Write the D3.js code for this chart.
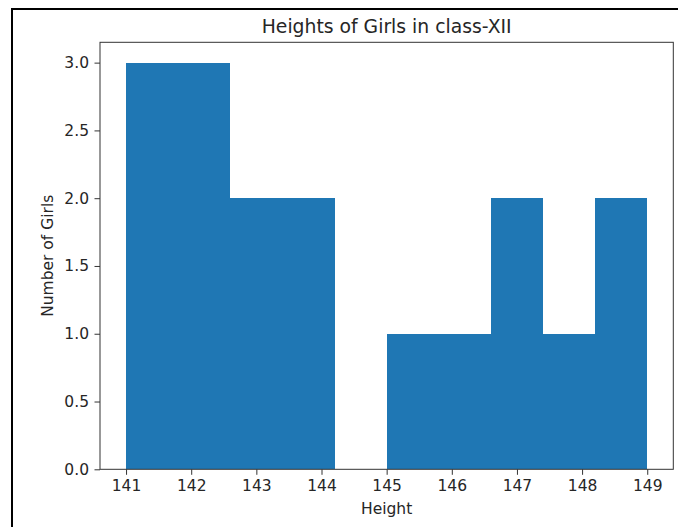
<!DOCTYPE html>
<html><head><meta charset="utf-8">
<script src="https://cdn.jsdelivr.net/npm/d3@7"></script>
<style>body{margin:0;background:#fff}svg{display:block;font-family:"DejaVu Sans",sans-serif}</style>
</head><body>
<svg id="c" width="678" height="527"></svg>
<script>
const binEdges = [141, 141.8, 142.6, 143.4, 144.2, 145, 145.8, 146.6, 147.4, 148.2, 149];
const counts = [3, 3, 2, 2, 0, 1, 1, 2, 1, 2];
const xTicks = [141, 142, 143, 144, 145, 146, 147, 148, 149];
const yTicks = [0, 0.5, 1.0, 1.5, 2.0, 2.5, 3.0];
const titleText = "Heights of Girls in class-XII";
const xLabel = "Height";
const yLabel = "Number of Girls";

const svg = d3.select("#c");
const m = {l:100, r:673.3, t:42.3, b:469.3};
const x = d3.scaleLinear().domain([140.6, 149.4]).range([m.l, m.r]);
const y = d3.scaleLinear().domain([0, 3.15]).range([m.b, m.t]);

// outer border
svg.append("rect").attr("x",12).attr("y",9).attr("width",700).attr("height",600)
  .attr("fill","none").attr("stroke","#000").attr("stroke-width",2);

const bins = counts.map((c,i)=>({x0:binEdges[i], x1:binEdges[i+1], c}));
svg.append("g").attr("shape-rendering","crispEdges").selectAll("rect").data(bins.filter(d=>d.c>0)).join("rect")
  .attr("x",d=>x(d.x0)).attr("width",d=>x(d.x1)-x(d.x0))
  .attr("y",d=>y(d.c)).attr("height",d=>y(0)-y(d.c))
  .attr("fill","#1f77b4");

const fs = 15.5;
const xa = svg.append("g").attr("transform",`translate(0,${m.b})`)
  .call(d3.axisBottom(x).tickValues(xTicks).tickFormat(d3.format("d")).tickSize(5.5).tickPadding(5.5));
const ya = svg.append("g").attr("transform",`translate(${m.l},0)`)
  .call(d3.axisLeft(y).tickValues(yTicks).tickFormat(d3.format(".1f")).tickSize(5.5).tickPadding(5.5));
[xa,ya].forEach(a=>{a.select(".domain").remove();
  a.selectAll("text").attr("font-size",fs).attr("fill","#262626").attr("font-family","DejaVu Sans");
  a.selectAll("line").attr("stroke","#333");});

svg.append("rect").attr("x",m.l).attr("y",m.t).attr("width",m.r-m.l).attr("height",m.b-m.t)
  .attr("fill","none").attr("stroke","#333").attr("stroke-width",1);

svg.append("text").attr("x",(m.l+m.r)/2).attr("y",32.5).attr("text-anchor","middle")
  .attr("font-size",18.8).attr("fill","#262626").text(titleText);
svg.append("text").attr("x",(m.l+m.r)/2).attr("y",514).attr("text-anchor","middle")
  .attr("font-size",fs).attr("fill","#262626").text(xLabel);
svg.append("text").attr("transform",`translate(53,${(m.t+m.b)/2}) rotate(-90)`).attr("text-anchor","middle")
  .attr("font-size",fs).attr("fill","#262626").text(yLabel);
</script>
</body></html>
